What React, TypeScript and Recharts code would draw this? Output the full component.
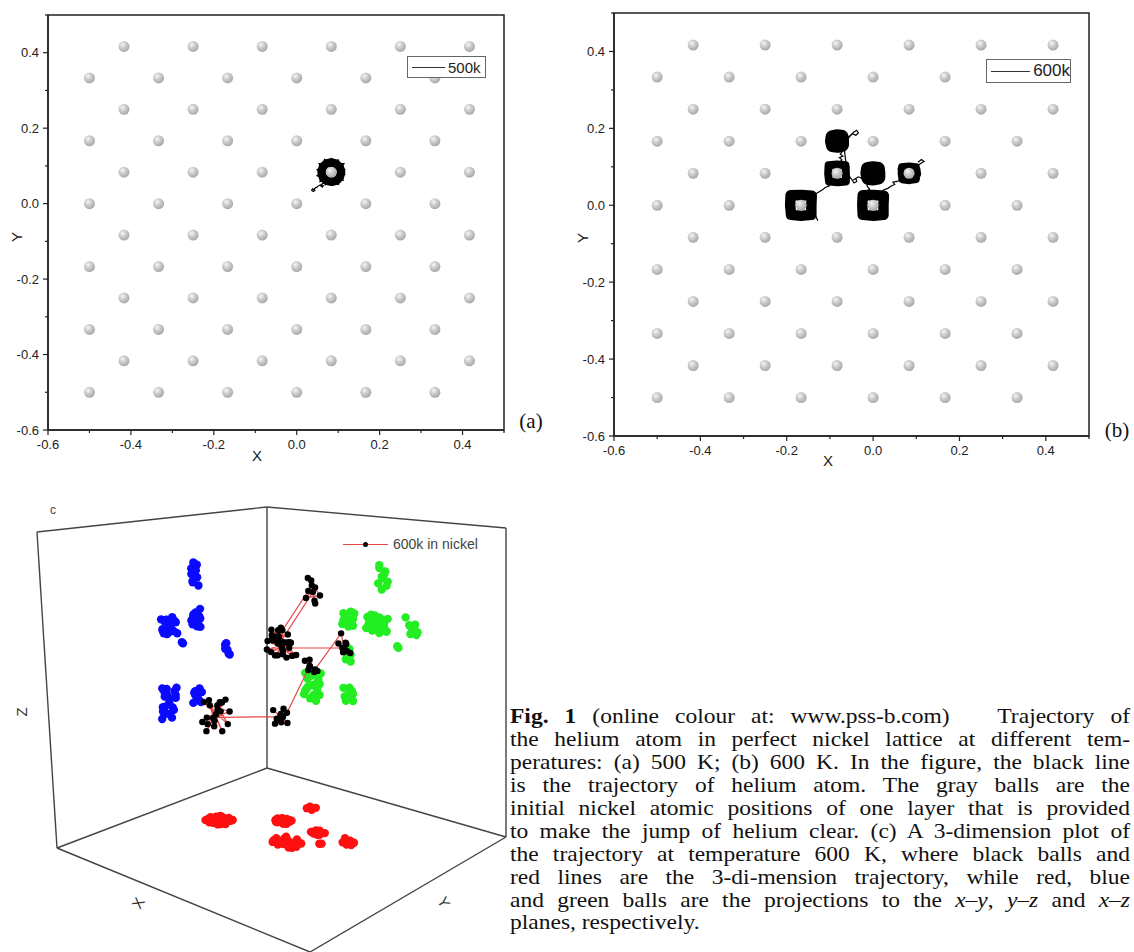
import {
  ScatterChart,
  Scatter,
  XAxis,
  YAxis,
  ReferenceArea,
  ReferenceLine,
} from "recharts";

type P2 = [number, number];
type P3 = [number, number, number];

// nickel sites of one layer (rows alternate between the two column sets)
const rowsOdd = [0.4167, 0.25, 0.0833, -0.0833, -0.25, -0.4167];
const rowsEven = [0.3333, 0.1667, 0, -0.1667, -0.3333, -0.5];
const colsOdd = [-0.4167, -0.25, -0.0833, 0.0833, 0.25, 0.4167];
const colsEven = [-0.5, -0.3333, -0.1667, 0, 0.1667, 0.3333];

const axisTicks = [-0.6, -0.5, -0.4, -0.3, -0.2, -0.1, 0, 0.1, 0.2, 0.3, 0.4, 0.5];
const axisLabels = [-0.6, -0.4, -0.2, 0, 0.2, 0.4];

// (a) 500 K: helium rattles around one site, short tail to the lower left
const ring500: P2[] = [
  [0.107, 0.084], [0.104, 0.096], [0.095, 0.106], [0.083, 0.109], [0.071, 0.106],
  [0.063, 0.097], [0.06, 0.083], [0.063, 0.07], [0.072, 0.061], [0.084, 0.058],
  [0.096, 0.061], [0.104, 0.07], [0.107, 0.084],
];
const path500: P2[] = [
  [0.046, 0.043], [0.042, 0.039], [0.044, 0.035], [0.04, 0.032], [0.036, 0.035],
  [0.038, 0.039], [0.041, 0.037], [0.044, 0.041], [0.048, 0.043], [0.052, 0.047],
  [0.057, 0.05], [0.064, 0.048], [0.062, 0.044], [0.058, 0.047], [0.061, 0.052],
  [0.066, 0.056], [0.07, 0.062], [0.056, 0.058], [0.058, 0.07], [0.049, 0.074],
  [0.056, 0.082], [0.049, 0.09], [0.058, 0.096], [0.054, 0.106], [0.065, 0.107],
  [0.067, 0.117], [0.077, 0.111], [0.084, 0.12], [0.091, 0.111], [0.1, 0.116],
  [0.103, 0.106], [0.114, 0.106], [0.109, 0.098], [0.116, 0.09], [0.107, 0.084],
  [0.116, 0.077], [0.107, 0.071], [0.112, 0.062], [0.101, 0.062], [0.101, 0.051],
  [0.091, 0.055], [0.086, 0.048], [0.078, 0.055], [0.069, 0.05], [0.068, 0.06],
];

// (b) 600 K: six residence sites
const ring600a: P2[] = [
  [-0.143, 0.001], [-0.142, 0.025], [-0.166, 0.027], [-0.191, 0.026], [-0.192, 0.0],
  [-0.19, -0.025], [-0.167, -0.027], [-0.143, -0.025], [-0.143, 0.001],
];
const ring600b: P2[] = [
  [-0.063, 0.084], [-0.064, 0.104], [-0.084, 0.106], [-0.103, 0.104], [-0.104, 0.082],
  [-0.102, 0.062], [-0.082, 0.06], [-0.063, 0.062], [-0.063, 0.084],
];
const ring600c: P2[] = [
  [-0.073, 0.168], [-0.074, 0.177], [-0.084, 0.178], [-0.093, 0.176], [-0.094, 0.166],
  [-0.092, 0.157], [-0.082, 0.156], [-0.073, 0.158], [-0.073, 0.168],
];
const ring600d: P2[] = [
  [0.011, 0.084], [0.01, 0.094], [0.0, 0.095], [-0.011, 0.093], [-0.012, 0.083],
  [-0.01, 0.072], [0.001, 0.071], [0.011, 0.073], [0.011, 0.084],
];
const ring600e: P2[] = [
  [0.024, 0.001], [0.025, 0.025], [0.0, 0.027], [-0.024, 0.026], [-0.025, 0.0],
  [-0.024, -0.025], [0.001, -0.027], [0.024, -0.025], [0.024, 0.001],
];
const ring600f: P2[] = [
  [0.101, 0.084], [0.1, 0.1], [0.083, 0.102], [0.066, 0.1], [0.065, 0.083],
  [0.067, 0.066], [0.084, 0.064], [0.1, 0.067], [0.101, 0.084],
];
const path600: P2[] = [
  [-0.128, -0.04], [-0.132, -0.03], [-0.14, -0.026], [-0.15, -0.032], [-0.16, -0.036],
  [-0.172, -0.03], [-0.186, -0.036], [-0.198, -0.022], [-0.195, -0.005], [-0.2, 0.01],
  [-0.193, 0.027], [-0.178, 0.034], [-0.165, 0.029], [-0.152, 0.034], [-0.14, 0.024],
  [-0.135, 0.01], [-0.139, -0.008], [-0.135, -0.02], [-0.145, 0.018], [-0.135, 0.028],
  [-0.125, 0.035], [-0.118, 0.04], [-0.11, 0.047], [-0.102, 0.05], [-0.104, 0.058],
  [-0.11, 0.07], [-0.108, 0.09], [-0.11, 0.106], [-0.095, 0.112], [-0.08, 0.108],
  [-0.066, 0.112], [-0.056, 0.1], [-0.058, 0.085], [-0.055, 0.07], [-0.066, 0.056],
  [-0.08, 0.059], [-0.09, 0.056], [-0.086, 0.104], [-0.078, 0.112], [-0.072, 0.118],
  [-0.078, 0.124], [-0.07, 0.128], [-0.076, 0.133], [-0.071, 0.14], [-0.078, 0.146],
  [-0.092, 0.15], [-0.098, 0.162], [-0.095, 0.178], [-0.082, 0.184], [-0.07, 0.18],
  [-0.066, 0.17], [-0.068, 0.158], [-0.06, 0.175], [-0.052, 0.182], [-0.045, 0.19],
  [-0.038, 0.195], [-0.034, 0.188], [-0.04, 0.182], [-0.048, 0.186], [-0.055, 0.178],
  [-0.064, 0.16], [-0.066, 0.14], [-0.064, 0.12], [-0.062, 0.1], [-0.058, 0.08],
  [-0.05, 0.068], [-0.044, 0.058], [-0.038, 0.062], [-0.04, 0.07], [-0.046, 0.066],
  [-0.034, 0.074], [-0.026, 0.07], [-0.018, 0.062], [-0.022, 0.078], [-0.018, 0.1],
  [0.0, 0.108], [0.017, 0.102], [0.022, 0.085], [0.018, 0.064], [0.0, 0.058],
  [-0.012, 0.062], [-0.014, 0.05], [-0.008, 0.042], [-0.016, 0.036], [0.002, 0.036],
  [-0.028, 0.03], [-0.032, 0.01], [-0.028, -0.012], [-0.032, -0.028], [-0.012, -0.033],
  [0.006, -0.037], [0.024, -0.03], [0.032, -0.012], [0.029, 0.008], [0.032, 0.024],
  [0.018, 0.032], [0.024, 0.04], [0.034, 0.044], [0.042, 0.05], [0.05, 0.054],
  [0.046, 0.06], [0.056, 0.062], [0.062, 0.066], [0.06, 0.08], [0.058, 0.096],
  [0.074, 0.106], [0.09, 0.106], [0.108, 0.096], [0.11, 0.08], [0.104, 0.064],
  [0.086, 0.06], [0.07, 0.062], [0.09, 0.096], [0.104, 0.104], [0.112, 0.11],
  [0.118, 0.114], [0.112, 0.119], [0.104, 0.112],
];

// (c) 600 K trajectory in box units (x, y, z in 0..1), one run of samples per site
const traj600: P3[] = [
  [0.19, 0.45, 0.355], [0.16, 0.47, 0.395], [0.22, 0.43, 0.325], [0.17, 0.42, 0.375],
  [0.21, 0.48, 0.345], [0.155, 0.45, 0.315], [0.225, 0.46, 0.405], [0.18, 0.485, 0.305],
  [0.2, 0.415, 0.4], [0.215, 0.47, 0.38], [0.165, 0.435, 0.335], [0.19, 0.48, 0.41],
  [0.205, 0.44, 0.3], [0.175, 0.46, 0.385], [0.22, 0.42, 0.365], [0.16, 0.48, 0.33],
  [0.195, 0.465, 0.32], [0.185, 0.425, 0.39], [0.21, 0.45, 0.37], [0.17, 0.47, 0.345],
  [0.34, 0.32, 0.35], [0.32, 0.33, 0.37], [0.36, 0.31, 0.33], [0.33, 0.305, 0.325],
  [0.355, 0.335, 0.365], [0.345, 0.31, 0.375], [0.325, 0.32, 0.34], [0.36, 0.33, 0.355],
  [0.335, 0.34, 0.33], [0.35, 0.3, 0.36],
  [0.34, 0.18, 0.49], [0.33, 0.19, 0.51], [0.35, 0.17, 0.47], [0.345, 0.185, 0.515],
  [0.33, 0.175, 0.475], [0.35, 0.19, 0.495],
  [0.55, 0.38, 0.55], [0.545, 0.385, 0.555],
  [0.58, 0.3, 0.66],
  [0.61, 0.32, 0.62], [0.625, 0.31, 0.605], [0.595, 0.33, 0.635], [0.63, 0.33, 0.615],
  [0.605, 0.305, 0.63], [0.62, 0.325, 0.64], [0.6, 0.315, 0.605], [0.615, 0.335, 0.625],
  [0.46, 0.44, 0.62], [0.42, 0.46, 0.64], [0.5, 0.42, 0.6], [0.43, 0.41, 0.63],
  [0.49, 0.47, 0.61], [0.415, 0.44, 0.6], [0.505, 0.45, 0.645], [0.45, 0.475, 0.65],
  [0.47, 0.405, 0.59], [0.44, 0.45, 0.595], [0.48, 0.43, 0.64], [0.46, 0.46, 0.6],
  [0.435, 0.425, 0.65], [0.49, 0.44, 0.625], [0.425, 0.47, 0.615], [0.475, 0.415, 0.635],
  [0.455, 0.43, 0.61], [0.5, 0.465, 0.6], [0.44, 0.435, 0.63], [0.47, 0.455, 0.645],
  [0.485, 0.32, 0.785], [0.47, 0.31, 0.82], [0.5, 0.33, 0.76], [0.48, 0.305, 0.745],
  [0.495, 0.335, 0.81], [0.47, 0.325, 0.83], [0.505, 0.31, 0.775], [0.465, 0.33, 0.765],
  [0.49, 0.315, 0.8], [0.48, 0.335, 0.79],
  [0.34, 0.32, 0.62], [0.32, 0.33, 0.64], [0.36, 0.31, 0.6], [0.325, 0.305, 0.635],
  [0.355, 0.335, 0.61], [0.315, 0.315, 0.6], [0.365, 0.33, 0.645], [0.34, 0.3, 0.595],
  [0.33, 0.34, 0.625], [0.35, 0.32, 0.65], [0.32, 0.32, 0.615], [0.36, 0.3, 0.625],
];

const boxEdges: [P3, P3][] = [
  [[0, 1, 0], [0, 1, 1]],
  [[0, 0, 0], [0, 0, 1]],
  [[1, 0, 0], [1, 0, 1]],
  [[0, 1, 1], [0, 0, 1]],
  [[0, 0, 1], [1, 0, 1]],
  [[0, 1, 0], [0, 0, 0]],
  [[0, 0, 0], [1, 0, 0]],
  [[0, 1, 0], [1, 1, 0]],
  [[1, 1, 0], [1, 0, 0]],
];

const lattice = [
  ...rowsOdd.flatMap((y) => colsOdd.map((x) => ({ x, y }))),
  ...rowsEven.flatMap((y) => colsEven.map((x) => ({ x, y }))),
];
const toXY = (pts: P2[]) => pts.map(([x, y]) => ({ x, y }));

const AXIS = "#222";
const SANS = "'Liberation Sans', Arial, sans-serif";
const SERIF = "'Liberation Serif', 'Times New Roman', serif";

function XTick({ x, y, payload }: any) {
  const major = axisLabels.includes(payload.value);
  return (
    <g>
      <line x1={x} y1={y} x2={x} y2={y + (major ? 5 : 3)} stroke={AXIS} strokeWidth={1.2} />
      {major && (
        <text x={x} y={y + 10} dy="0.71em" textAnchor="middle" fontSize={13} fontFamily={SANS} fill={AXIS}>
          {payload.value.toFixed(1)}
        </text>
      )}
    </g>
  );
}

function YTick({ x, y, payload }: any) {
  const major = axisLabels.includes(payload.value);
  return (
    <g>
      <line x1={x} y1={y} x2={x - (major ? 5 : 3)} y2={y} stroke={AXIS} strokeWidth={1.2} />
      {major && (
        <text x={x - 9} y={y} dy="0.35em" textAnchor="end" fontSize={13} fontFamily={SANS} fill={AXIS}>
          {payload.value.toFixed(1)}
        </text>
      )}
    </g>
  );
}

const noDot = () => <g />;

interface Ring {
  pts: P2[];
  w: number;
}

interface PanelProps {
  left: number;
  width: number;
  height: number;
  margin: { top: number; right: number; bottom: number; left: number };
  yAxisWidth: number;
  rings: Ring[];
  path: P2[];
  gradId: string;
}

function LatticePanel({ left, width, height, margin, yAxisWidth, rings, path, gradId }: PanelProps) {
  return (
    <div style={{ position: "absolute", left, top: 0 }}>
      <ScatterChart width={width} height={height} margin={margin}>
        <defs>
          <radialGradient id={gradId} cx="38%" cy="34%" r="66%">
            <stop offset="0%" stopColor="#f6f6f6" />
            <stop offset="45%" stopColor="#cdcdcd" />
            <stop offset="100%" stopColor="#a9a9a9" />
          </radialGradient>
        </defs>
        <XAxis
          type="number"
          dataKey="x"
          domain={[-0.6, 0.5]}
          ticks={axisTicks}
          interval={0}
          height={40}
          tickLine={false}
          tickSize={0}
          tickMargin={0}
          tick={(p: any) => <XTick {...p} />}
          axisLine={{ stroke: AXIS, strokeWidth: 1.5 }}
        />
        <YAxis
          type="number"
          dataKey="y"
          domain={[-0.6, 0.5]}
          ticks={axisTicks}
          interval={0}
          width={yAxisWidth}
          tickLine={false}
          tickSize={0}
          tickMargin={0}
          tick={(p: any) => <YTick {...p} />}
          axisLine={{ stroke: AXIS, strokeWidth: 1.5 }}
        />
        <ReferenceArea
          x1={-0.6}
          x2={0.5}
          y1={-0.6}
          y2={0.5}
          fill="none"
          stroke={AXIS}
          strokeWidth={1.5}
          ifOverflow="visible"
        />
        <Scatter
          data={toXY(path)}
          line={{ stroke: "#000", strokeWidth: 1.2 }}
          lineType="joint"
          shape={noDot}
          isAnimationActive={false}
        />
        {rings.map((r, i) => (
          <Scatter
            key={i}
            data={toXY(r.pts)}
            line={{ stroke: "#000", strokeWidth: r.w, strokeLinejoin: "round", strokeLinecap: "round" }}
            lineType="joint"
            shape={noDot}
            isAnimationActive={false}
          />
        ))}
        <Scatter
          data={lattice}
          shape={(p: any) => <circle cx={p.cx} cy={p.cy} r={5.5} fill={`url(#${gradId})`} />}
          isAnimationActive={false}
        />
      </ScatterChart>
    </div>
  );
}

// camera for panel (c): page positions of the floor and ceiling corners
const floorCorners = { o: [267, 768], x: [506, 837], y: [57, 848], xy: [310, 952] };
const ceilCorners = { o: [267, 507], x: [506, 528], y: [37, 532], xy: [290, 560] };

function bilerp(c: typeof floorCorners, x: number, y: number): P2 {
  const f = (k: 0 | 1) =>
    c.o[k] * (1 - x) * (1 - y) + c.x[k] * x * (1 - y) + c.y[k] * (1 - x) * y + c.xy[k] * x * y;
  return [f(0), f(1)];
}

function project([x, y, z]: P3) {
  const a = bilerp(floorCorners, x, y);
  const b = bilerp(ceilCorners, x, y);
  return { u: a[0] + (b[0] - a[0]) * z, v: a[1] + (b[1] - a[1]) * z };
}

const dotShape = (r: number, fill: string) => (p: any) => <circle cx={p.cx} cy={p.cy} r={r} fill={fill} />;

function Panel3D() {
  const xyProj = traj600.map(([x, y]) => project([x, y, 0]));
  const yzProj = traj600.map(([, y, z]) => project([0, y, z]));
  const xzProj = traj600.map(([x, , z]) => project([x, 0, z]));
  const path = traj600.map(project);
  return (
    <div style={{ position: "absolute", left: 0, top: 480, width: 510, height: 472, overflow: "hidden" }}>
      <ScatterChart width={510} height={472} margin={{ top: 0, right: 0, bottom: 0, left: 0 }}>
        <XAxis type="number" dataKey="u" domain={[0, 510]} hide />
        <YAxis type="number" dataKey="v" domain={[480, 952]} reversed hide />
        {boxEdges.map(([a, b], i) => {
          const pa = project(a);
          const pb = project(b);
          return (
            <ReferenceLine
              key={i}
              segment={[
                { x: pa.u, y: pa.v },
                { x: pb.u, y: pb.v },
              ]}
              stroke="#444"
              strokeWidth={1.4}
              ifOverflow="visible"
            />
          );
        })}
        <Scatter data={xyProj} shape={dotShape(4.2, "#ff1010")} isAnimationActive={false} />
        <Scatter data={yzProj} shape={dotShape(4.2, "#0a0aff")} isAnimationActive={false} />
        <Scatter data={xzProj} shape={dotShape(4.2, "#22ee22")} isAnimationActive={false} />
        <Scatter
          data={path}
          line={{ stroke: "#e84848", strokeWidth: 1.2 }}
          lineType="joint"
          shape={dotShape(3.2, "#000")}
          isAnimationActive={false}
        />
      </ScatterChart>
    </div>
  );
}

function Legend2D({ left, top, w, h, text, fontSize, lineW }: any) {
  return (
    <div
      style={{
        position: "absolute",
        left,
        top,
        width: w,
        height: h,
        boxSizing: "border-box",
        border: "1.5px solid #666",
        background: "#fff",
        display: "flex",
        alignItems: "center",
        paddingLeft: 4,
        fontFamily: SANS,
        fontSize,
        color: "#222",
      }}
    >
      <span style={{ display: "inline-block", width: lineW, borderTop: "1px solid #333", marginRight: 3 }} />
      {text}
    </div>
  );
}

const abs = (left: number, top: number, extra: any = {}) => ({
  position: "absolute" as const,
  left,
  top,
  transform: "translate(-50%, -50%)",
  whiteSpace: "nowrap" as const,
  ...extra,
});

const captionLines = [
  <>
    <b>Fig. 1</b> (online colour at: www.pss-b.com)&nbsp;&nbsp; Trajectory of
  </>,
  <>the helium atom in perfect nickel lattice at different tem-</>,
  <>peratures: (a) 500 K; (b) 600 K. In the figure, the black line</>,
  <>is the trajectory of helium atom. The gray balls are the</>,
  <>initial nickel atomic positions of one layer that is provided</>,
  <>to make the jump of helium clear. (c) A 3-dimension plot of</>,
  <>the trajectory at temperature 600 K, where black balls and</>,
  <>red lines are the 3-di-mension trajectory, while red, blue</>,
  <>
    and green balls are the projections to the <i>x</i>–<i>y</i>, <i>y</i>–<i>z</i> and <i>x</i>–<i>z</i>
  </>,
  <>planes, respectively.</>,
];

export default function App() {
  return (
    <div style={{ position: "absolute", left: 0, top: 0, width: 1134, height: 952, background: "#fff", overflow: "hidden" }}>
      <LatticePanel
        left={0}
        width={560}
        height={470}
        margin={{ top: 15, right: 56, bottom: 0, left: 0 }}
        yAxisWidth={48}
        rings={[{ pts: ring500, w: 8.5 }]}
        path={path500}
        gradId="ballA"
      />
      <LatticePanel
        left={560}
        width={560}
        height={476}
        margin={{ top: 13, right: 31, bottom: 0, left: 0 }}
        yAxisWidth={54}
        rings={[
          { pts: ring600a, w: 10.5 },
          { pts: ring600b, w: 8 },
          { pts: ring600c, w: 15 },
          { pts: ring600d, w: 15 },
          { pts: ring600e, w: 10.5 },
          { pts: ring600f, w: 7 },
        ]}
        path={path600}
        gradId="ballB"
      />
      <Legend2D left={407} top={56} w={79} h={22} text="500k" fontSize={15} lineW={33} />
      <Legend2D left={986} top={59} w={85} h={24} text="600k" fontSize={17} lineW={40} />

      <div style={abs(257, 455, { fontFamily: SANS, fontSize: 15, color: "#222" })}>X</div>
      <div style={abs(16, 237, { fontFamily: SANS, fontSize: 15, color: "#222", transform: "translate(-50%, -50%) rotate(-90deg)" })}>Y</div>
      <div style={abs(828, 460, { fontFamily: SANS, fontSize: 15, color: "#222" })}>X</div>
      <div style={abs(582, 238, { fontFamily: SANS, fontSize: 15, color: "#222", transform: "translate(-50%, -50%) rotate(-90deg)" })}>Y</div>
      <div style={abs(531, 421, { fontFamily: SERIF, fontSize: 21, color: "#111" })}>(a)</div>
      <div style={abs(1117, 430, { fontFamily: SERIF, fontSize: 21, color: "#111" })}>(b)</div>

      <Panel3D />
      <div style={abs(53, 510, { fontFamily: SANS, fontSize: 12, color: "#444" })}>c</div>
      <div style={abs(21, 712, { fontFamily: SANS, fontSize: 15, color: "#333", transform: "translate(-50%, -50%) rotate(-90deg)" })}>Z</div>
      <div style={abs(138, 903, { fontFamily: SANS, fontSize: 15, color: "#333", transform: "translate(-50%, -50%) rotate(-60deg)" })}>X</div>
      <div style={abs(444, 902, { fontFamily: SANS, fontSize: 15, color: "#333", transform: "translate(-50%, -50%) rotate(60deg)" })}>Y</div>
      <div style={{ position: "absolute", left: 343, top: 536, display: "flex", alignItems: "center", fontFamily: SANS, fontSize: 14, color: "#444" }}>
        <span style={{ position: "relative", display: "inline-block", width: 45, height: 14, marginRight: 5 }}>
          <span style={{ position: "absolute", left: 0, right: 0, top: 7, borderTop: "1.2px solid #e84848" }} />
          <span style={{ position: "absolute", left: 20, top: 5, width: 5, height: 5, borderRadius: "50%", background: "#000" }} />
        </span>
        600k in nickel
      </div>

      <div
        style={{
          position: "absolute",
          left: 510,
          top: 705,
          width: 620,
          fontFamily: SERIF,
          fontSize: 23.5,
          lineHeight: "26px",
          color: "#111",
          transform: "scaleY(0.88)",
          transformOrigin: "0 0",
        }}
      >
        {captionLines.map((ln, i) => (
          <div
            key={i}
            style={{
              textAlign: "justify",
              textAlignLast: i === captionLines.length - 1 ? "left" : "justify",
            }}
          >
            {ln}
          </div>
        ))}
      </div>
    </div>
  );
}
